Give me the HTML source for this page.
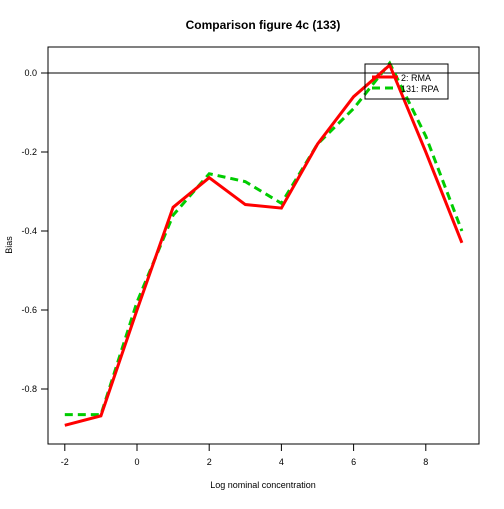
<!DOCTYPE html>
<html><head><meta charset="utf-8"><style>body{margin:0;background:#fff}svg text{font-family:"Liberation Sans",sans-serif}</style></head>
<body>
<svg width="504" height="504" xmlns="http://www.w3.org/2000/svg">
<text x="263" y="29" font-size="12" font-weight="bold" text-anchor="middle">Comparison figure 4c (133)</text>
<rect x="48" y="47" width="431" height="397" fill="none" stroke="#000"/>
<g id="axes"></g>
<g id="series"></g>
<rect x="365" y="64" width="83" height="35" fill="#fff" fill-opacity="0" stroke="#000"/>
<line x1="372" y1="77" x2="398" y2="77" stroke="#f00" stroke-width="3"/>
<line x1="372" y1="88" x2="398" y2="88" stroke="#0c0" stroke-width="3" stroke-dasharray="8,5"/>
<text x="401" y="81" font-size="9">2: RMA</text>
<text x="401" y="92" font-size="9">131: RPA</text>
<text x="263" y="488" font-size="9" text-anchor="middle">Log nominal concentration</text>
<text x="12" y="245" font-size="9" text-anchor="middle" transform="rotate(-90 12 245)">Bias</text>
</svg>
<script>
const xs=[-2,-1,0,1,2,3,4,5,6,7,8,9];
const rma=[-0.892,-0.868,-0.6,-0.34,-0.265,-0.333,-0.342,-0.18,-0.06,0.02,-0.2,-0.43];
const rpa=[-0.865,-0.865,-0.58,-0.36,-0.255,-0.275,-0.33,-0.18,-0.09,0.025,-0.16,-0.40];
const xTicks=[-2,0,2,4,6,8];
const yTicks=[0,-0.2,-0.4,-0.6,-0.8];
const yLabels=["0.0","-0.2","-0.4","-0.6","-0.8"];
const X=v=>137+v*36.1, Y=v=>73-v*395;
const NS="http://www.w3.org/2000/svg";
function mk(t,a,p){const e=document.createElementNS(NS,t);for(const k in a)e.setAttribute(k,a[k]);p.appendChild(e);return e;}
const ax=document.getElementById('axes');
let e=mk('line',{x1:48,x2:479,y1:Y(0),y2:Y(0),stroke:'#000'},ax);


xTicks.forEach(v=>{let l=mk('line',{x1:X(v),x2:X(v),y1:444,y2:451,stroke:'#000'},ax);


let t=mk('text',{x:X(v),y:465,'font-size':9,'text-anchor':'middle'},ax);t.textContent=String(v).replace('-','−').replace('−','-');

});
yTicks.forEach((v,i)=>{let l=mk('line',{x1:41,x2:48,y1:Y(v),y2:Y(v),stroke:'#000'},ax);


let t=mk('text',{x:37,y:Y(v)+3,'font-size':9,'text-anchor':'end'},ax);t.textContent=yLabels[i];

});
const sg=document.getElementById('series');
let g=mk('polyline',{points:xs.map((x,i)=>X(x)+','+Y(rpa[i])).join(' '),fill:'none',stroke:'#0c0','stroke-width':3,'stroke-dasharray':'8,5'},sg);


let r=mk('polyline',{points:xs.map((x,i)=>X(x)+','+Y(rma[i])).join(' '),fill:'none',stroke:'#f00','stroke-width':3},sg);


</script>
</body></html>
